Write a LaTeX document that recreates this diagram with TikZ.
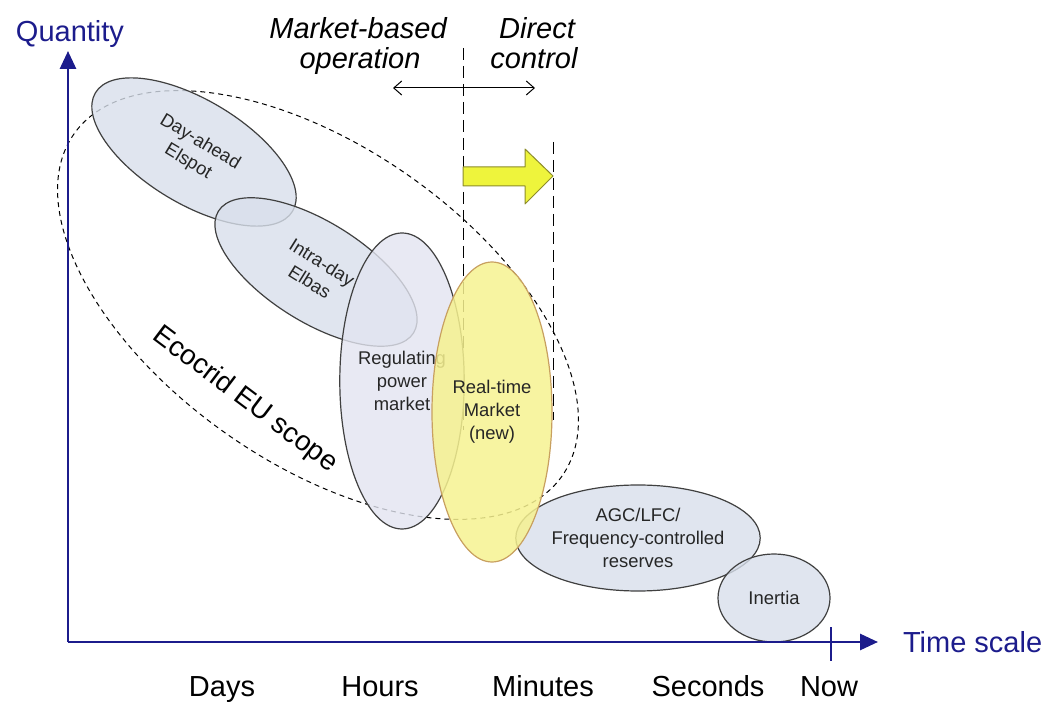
\documentclass[tikz,border=0pt]{standalone}
\usepackage{fontspec}
\setmainfont{Liberation Sans}
\usepackage{tikz}
\usetikzlibrary{arrows.meta,shapes.geometric,positioning}

\definecolor{axisblue}{HTML}{1C1C8C}
\definecolor{marketfill}{HTML}{D8DFEB}
\definecolor{regfill}{HTML}{E2E4F0}
\definecolor{rtfill}{HTML}{F6F290}
\definecolor{rtline}{HTML}{C8A060}
\definecolor{shiftfill}{HTML}{EEF43C}
\definecolor{shiftline}{HTML}{8C8C2A}

\tikzset{
    market/.style={ellipse,draw=black!75,line width=0.6pt,fill=marketfill,
        fill opacity=0.8,text opacity=1,text=black!85,inner sep=0pt,align=center,
        font=\fontsize{9.2}{11.5}\selectfont},
    axisline/.style={axisblue,line width=1.4pt},
    biglabel/.style={font=\fontsize{14.5}{17}\selectfont},
    divider/.style={dash pattern=on 6pt off 3pt,line width=0.5pt},
    scopeline/.style={dash pattern=on 2.5pt off 2pt,line width=0.5pt},
}

\begin{document}
\begin{tikzpicture}[x=0.5pt,y=-0.5pt,line join=round]
        \useasboundingbox (0,0) rectangle (1048,704);

        % --- Variables ---
        \coordinate (origin) at (68,642);
        \coordinate (qtip) at (68,51);
        \coordinate (ttip) at (878,642);
        \coordinate (divA top) at (463,48);
        \coordinate (divA bot) at (463,430);
        \coordinate (divB top) at (553,142);
        \coordinate (divB bot) at (553,420);
        \coordinate (mktL) at (393,88);
        \coordinate (ctrlR) at (535,88);

        % Ecocrid scope
        \draw[scopeline,rotate around={-35:(318,305)}] (318,305) ellipse [x radius=298,y radius=158];

        % Dividers between operation modes
        \draw[divider] (divA top) -- (divA bot);
        \draw[divider] (divB top) -- (divB bot);

        % Markets
        \node[market,minimum width=115pt,minimum height=52pt,rotate=-31] (dayahead) at (194,152) {Day-ahead\\Elspot};
        \node[market,minimum width=115pt,minimum height=50pt,rotate=-32] (intraday) at (316,272) {Intra-day\\Elbas};
        \node[market,fill=regfill,minimum width=57pt,minimum height=148pt] (regpower) at (402,381) {Regulating\\power\\market};
        \node[market,minimum width=118pt,minimum height=53pt] (agc) at (638,538) {AGC/LFC/\\Frequency-controlled\\reserves};
        \node[market,minimum width=56pt,minimum height=44pt] (inertia) at (774,598) {Inertia};

        % New market
        \node[market,draw=rtline,fill=rtfill,fill opacity=0.85,minimum width=60pt,minimum height=150pt] (realtime) at (492,412) {Real-time\\Market\\(new)};

        % Shift towards real time
        \draw[shiftline,fill=shiftfill,line width=0.5pt] (463,167) -- (525,167) -- (525,149) -- (553,176) -- (525,204) -- (525,186) -- (463,186) -- cycle;

        % Operation modes
        \draw[{Straight Barb[length=4pt,width=7pt]}-{Straight Barb[length=4pt,width=7pt]},line width=0.5pt] (mktL) -- (ctrlR);
        \node[biglabel,font=\fontsize{14.5}{17}\selectfont\itshape,anchor=base] (mktA) at (358,39) {Market-based};
        \node[biglabel,font=\fontsize{14.5}{17}\selectfont\itshape,anchor=base] (mktB) at (360,69) {operation};
        \node[biglabel,font=\fontsize{14.5}{17}\selectfont\itshape,anchor=base] (ctrlA) at (537,39) {Direct};
        \node[biglabel,font=\fontsize{14.5}{17}\selectfont\itshape,anchor=base] (ctrlB) at (534,69) {control};

        % Axes
        \draw[axisline,-{Triangle[length=9pt,width=8pt]}] (origin) -- (qtip);
        \draw[axisline,-{Triangle[length=9pt,width=8pt]}] (origin) -- (ttip);
        \draw[axisblue,line width=1pt] (831,627) -- (831,661);

        \node[biglabel,text=axisblue] (qlabel) at (70,34) {Quantity};
        \node[biglabel,text=axisblue,right=9pt of ttip] (tlabel) {Time scale};

        % Time scale labels
        \foreach \t/\x in {Days/222,Hours/380,Minutes/543,Seconds/708,Now/829}
            \node[biglabel,anchor=base] (lbl\t) at (\x,696) {\t};

        % Scope label
        \node[rotate=-37,font=\fontsize{14}{16}\selectfont] (scopelabel) at (245,400) {Ecocrid EU scope};

\end{tikzpicture}
\end{document}
